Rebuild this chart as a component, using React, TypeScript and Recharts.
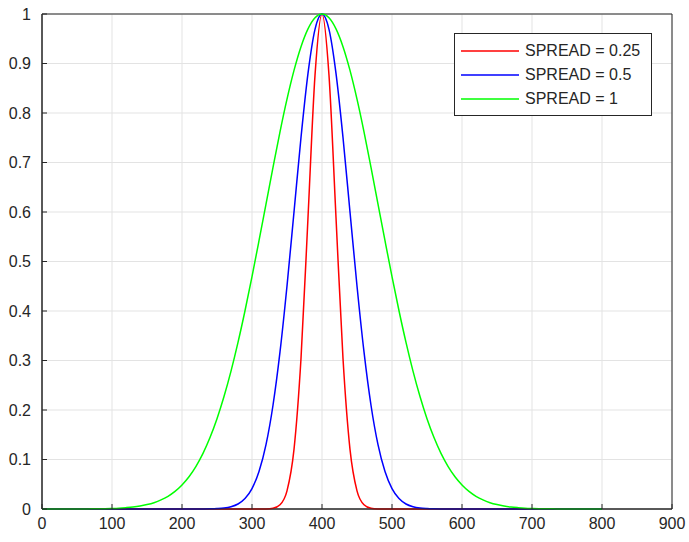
import { LineChart, Line, XAxis, YAxis, CartesianGrid, Legend, ReferenceArea } from 'recharts';

const xValues = [
  0, 10, 20, 30, 40, 50, 60, 70, 80, 90,
  100, 110, 120, 130, 140, 150, 160, 170, 180, 190,
  200, 210, 220, 230, 240, 250, 260, 270, 280, 290,
  300, 310, 320, 330, 340, 350, 360, 370, 380, 390,
  400, 410, 420, 430, 440, 450, 460, 470, 480, 490,
  500, 510, 520, 530, 540, 550, 560, 570, 580, 590,
  600, 610, 620, 630, 640, 650, 660, 670, 680, 690,
  700, 710, 720, 730, 740, 750, 760, 770, 780, 790,
  800,
];

const spread025 = [
  0, 0, 0, 0, 0, 0, 0, 0, 0, 0,
  0, 0, 0, 0, 0, 0, 0, 0, 0, 0,
  0, 0, 0, 0, 0, 0, 0, 0, 0, 0,
  0, 0, 0.0002, 0.0015, 0.0086, 0.0367, 0.1205, 0.304, 0.589, 0.876,
  1, 0.876, 0.589, 0.304, 0.1205, 0.0367, 0.0086, 0.0015, 0.0002, 0,
  0, 0, 0, 0, 0, 0, 0, 0, 0, 0,
  0, 0, 0, 0, 0, 0, 0, 0, 0, 0,
  0, 0, 0, 0, 0, 0, 0, 0, 0, 0,
  0,
];

const spread05 = [
  0, 0, 0, 0, 0, 0, 0, 0, 0, 0,
  0, 0, 0, 0, 0, 0, 0, 0, 0, 0,
  0, 0, 0.00003, 0.0001, 0.0003, 0.0008, 0.0019, 0.0046, 0.0101, 0.0211,
  0.0412, 0.0756, 0.1299, 0.2096, 0.3173, 0.4506, 0.6, 0.7505, 0.88, 0.969,
  1, 0.969, 0.88, 0.7505, 0.6, 0.4506, 0.3173, 0.2096, 0.1299, 0.0756,
  0.0412, 0.0211, 0.0101, 0.0046, 0.0019, 0.0008, 0.0003, 0.0001, 0.00003, 0,
  0, 0, 0, 0, 0, 0, 0, 0, 0, 0,
  0, 0, 0, 0, 0, 0, 0, 0, 0, 0,
  0,
];

const spread1 = [
  0, 0, 0.00002, 0.00003, 0.00006, 0.0001, 0.00016, 0.00027, 0.00043, 0.0007,
  0.0011, 0.0017, 0.0027, 0.004, 0.006, 0.0089, 0.0128, 0.0183, 0.0257, 0.0356,
  0.0486, 0.0652, 0.0863, 0.1124, 0.1443, 0.1824, 0.2272, 0.2786, 0.3366, 0.4005,
  0.4695, 0.542, 0.616, 0.69, 0.762, 0.828, 0.886, 0.934, 0.97, 0.9925,
  1, 0.9925, 0.97, 0.934, 0.886, 0.828, 0.762, 0.69, 0.616, 0.542,
  0.4695, 0.4005, 0.3366, 0.2786, 0.2272, 0.1824, 0.1443, 0.1124, 0.0863, 0.0652,
  0.0486, 0.0356, 0.0257, 0.0183, 0.0128, 0.0089, 0.006, 0.004, 0.0027, 0.0017,
  0.0011, 0.0007, 0.00043, 0.00027, 0.00016, 0.0001, 0.00006, 0.00003, 0.00002, 0,
  0,
];

const xTicks = [0, 100, 200, 300, 400, 500, 600, 700, 800, 900];
const yTicks = [0, 0.1, 0.2, 0.3, 0.4, 0.5, 0.6, 0.7, 0.8, 0.9, 1];

const seriesNames = ['SPREAD = 0.25', 'SPREAD = 0.5', 'SPREAD = 1'];
const seriesColors = ['#ff0000', '#0000ff', '#00ff00'];

const chartData = xValues.map((x, i) => ({
  x,
  s1: spread025[i],
  s2: spread05[i],
  s3: spread1[i],
}));

const axisColor = '#262626';
const font = 'Arial, "Liberation Sans", Helvetica, sans-serif';

function renderLegend(props: any) {
  const { payload } = props;
  return (
    <div
      style={{
        border: `1px solid ${axisColor}`,
        background: '#fff',
        padding: '5px 8px 4px 6px',
        fontFamily: font,
        fontSize: 16,
        color: axisColor,
      }}
    >
      {payload.map((entry: any) => (
        <div key={entry.value} style={{ display: 'flex', alignItems: 'center', height: 24 }}>
          <svg width={58} height={10} style={{ marginRight: 6 }}>
            <line x1={0} y1={5} x2={58} y2={5} stroke={entry.color} strokeWidth={1.5} />
          </svg>
          <span>{entry.value}</span>
        </div>
      ))}
    </div>
  );
}

export default function App() {
  return (
    <div style={{ position: 'absolute', left: 0, top: 0, background: '#fff' }}>
      <LineChart
        width={689}
        height={542}
        data={chartData}
        margin={{ top: 14, right: 17, left: 0, bottom: 0 }}
      >
        <CartesianGrid stroke="#e3e3e3" strokeWidth={1} />
        <XAxis
          dataKey="x"
          type="number"
          domain={[0, 900]}
          ticks={xTicks}
          height={33}
          stroke={axisColor}
          tickSize={-5}
          tickMargin={14}
          tick={{ fill: axisColor, fontSize: 16, fontFamily: font }}
          interval={0}
        />
        <XAxis
          xAxisId="top"
          dataKey="x"
          type="number"
          orientation="top"
          domain={[0, 900]}
          ticks={xTicks}
          height={0}
          stroke={axisColor}
          tickSize={-5}
          tickFormatter={() => ''}
        />
        <YAxis
          type="number"
          domain={[0, 1]}
          ticks={yTicks}
          width={42}
          stroke={axisColor}
          tickSize={-5}
          tickMargin={16}
          tick={{ fill: axisColor, fontSize: 16, fontFamily: font }}
          tickFormatter={(v: number) => String(+v.toFixed(1))}
          interval={0}
        />
        <YAxis
          yAxisId="right"
          type="number"
          orientation="right"
          domain={[0, 1]}
          ticks={yTicks}
          width={0}
          stroke={axisColor}
          tickSize={-5}
          tickFormatter={() => ''}
        />
        <ReferenceArea
          x1={0}
          x2={900}
          y1={0}
          y2={1}
          fill="none"
          stroke={axisColor}
          strokeWidth={1}
          ifOverflow="visible"
        />
        <Legend
          layout="vertical"
          verticalAlign="middle"
          align="center"
          content={renderLegend}
          wrapperStyle={{ position: 'absolute', top: 33, left: 454, width: 198 }}
        />
        {['s1', 's2', 's3'].map((key, i) => (
          <Line
            key={key}
            dataKey={key}
            name={seriesNames[i]}
            stroke={seriesColors[i]}
            strokeWidth={1.5}
            type="monotone"
            dot={false}
            isAnimationActive={false}
          />
        ))}
      </LineChart>
    </div>
  );
}
